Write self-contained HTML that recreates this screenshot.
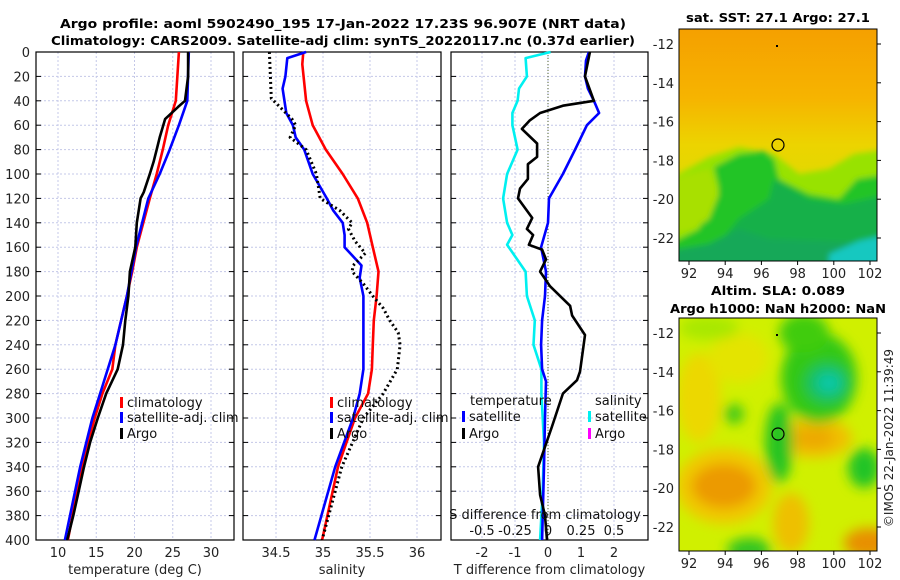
<!DOCTYPE html>
<html><head><meta charset="utf-8"><style>
html,body{margin:0;padding:0;background:#fff;}
svg{display:block;font-family:"DejaVu Sans","Liberation Sans",sans-serif;}
</style></head><body>
<svg id="fig" width="900" height="580" viewBox="0 0 900 580" xmlns="http://www.w3.org/2000/svg">
<defs>
<filter id="blur" x="-20%" y="-20%" width="140%" height="140%"><feGaussianBlur stdDeviation="6"/></filter>
<filter id="blur2" x="-20%" y="-20%" width="140%" height="140%"><feGaussianBlur stdDeviation="3"/></filter>
<clipPath id="c1"><rect x="679" y="29" width="198" height="232"/></clipPath>
<clipPath id="c2"><rect x="679" y="318" width="198" height="233"/></clipPath>
<linearGradient id="sstg" x1="0" y1="0" x2="0" y2="1">
<stop offset="0" stop-color="#f5a000"/><stop offset="0.3" stop-color="#f6b400"/><stop offset="0.5" stop-color="#ecd400"/><stop offset="1" stop-color="#c8e400"/></linearGradient>
</defs>
<g font-weight="bold" font-size="12.5" text-anchor="middle">
<text x="343" y="28" textLength="566" lengthAdjust="spacingAndGlyphs">Argo profile: aoml 5902490_195 17-Jan-2022 17.23S 96.907E (NRT data)</text>
<text x="343" y="45" textLength="584" lengthAdjust="spacingAndGlyphs">Climatology: CARS2009. Satellite-adj clim: synTS_20220117.nc (0.37d earlier)</text>
</g>
<g id="panels"></g>
<g>
<text x="778" y="22" font-size="12.5" font-weight="bold" text-anchor="middle" textLength="184" lengthAdjust="spacingAndGlyphs">sat. SST: 27.1 Argo: 27.1</text>
<g clip-path="url(#c1)">
<rect x="679" y="29" width="198" height="232" fill="url(#sstg)"/>
<g transform="translate(679,29)" filter="url(#blur2)">
<polygon points="-10,150 30,128 60,118 95,125 120,145 150,140 175,125 210,120 210,250 -10,250" fill="#98e200"/>
<polygon points="35,138 60,125 85,122 95,130 100,150 130,165 160,170 178,150 210,145 210,250 -10,250 -10,215 20,200 30,175 40,160" fill="#20c428"/>
<polygon points="95,150 130,170 165,175 210,165 210,250 -10,250 -10,225 40,215 60,190 90,170" fill="#16b048"/>
<polygon points="-10,150 30,140 40,165 30,190 15,200 -10,205" fill="#a8e000"/>
<polygon points="-10,222 30,215 60,200 90,210 210,215 210,250 -10,250" fill="#14a858"/>
<polygon points="150,225 180,212 210,205 210,250 150,250" fill="#18c8c0"/>
</g>
</g>
<rect x="679" y="29" width="198" height="232" fill="none" stroke="#000" stroke-width="1"/>
<circle cx="778" cy="145" r="6" fill="none" stroke="#000" stroke-width="1.2"/>
<rect x="776" y="45" width="2" height="2" fill="#000"/>
</g>
<g>
<text x="778" y="295" font-size="12.5" font-weight="bold" text-anchor="middle" textLength="134" lengthAdjust="spacingAndGlyphs">Altim. SLA: 0.089</text>
<text x="778" y="313" font-size="12.5" font-weight="bold" text-anchor="middle" textLength="216" lengthAdjust="spacingAndGlyphs">Argo h1000: NaN h2000: NaN</text>
<g clip-path="url(#c2)">
<rect x="679" y="318" width="198" height="233" fill="#d0f000"/>
<g transform="translate(679,318)" filter="url(#blur)">
<ellipse cx="45" cy="168" rx="48" ry="38" fill="#f0c800"/>
<ellipse cx="45" cy="168" rx="32" ry="22" fill="#ec9a00"/>
<ellipse cx="20" cy="80" rx="22" ry="45" fill="#ecd800"/>
<ellipse cx="60" cy="40" rx="30" ry="25" fill="#e4e400"/>
<ellipse cx="135" cy="120" rx="38" ry="20" fill="#f0c000"/>
<ellipse cx="135" cy="120" rx="20" ry="10" fill="#eca800"/>
<ellipse cx="112" cy="205" rx="18" ry="30" fill="#eec000"/>
<ellipse cx="190" cy="225" rx="25" ry="15" fill="#e89000"/>
<ellipse cx="140" cy="60" rx="38" ry="45" fill="#30c818"/>
<ellipse cx="125" cy="15" rx="25" ry="20" fill="#40cc10"/>
<ellipse cx="148" cy="65" rx="22" ry="20" fill="#18c060"/>
<ellipse cx="150" cy="65" rx="12" ry="10" fill="#10c8a8"/>
<ellipse cx="100" cy="125" rx="14" ry="40" fill="#28c420"/>
<ellipse cx="55" cy="96" rx="10" ry="10" fill="#40c818"/>
<ellipse cx="185" cy="150" rx="16" ry="20" fill="#20c428"/>
<ellipse cx="70" cy="232" rx="22" ry="12" fill="#30c420"/>
<ellipse cx="30" cy="10" rx="30" ry="12" fill="#a8e800"/>
</g>
</g>
<rect x="679" y="318" width="198" height="233" fill="none" stroke="#000" stroke-width="1"/>
<circle cx="778" cy="434" r="6" fill="none" stroke="#000" stroke-width="1.2"/>
<rect x="776" y="334" width="2" height="2" fill="#000"/>
</g>
<g id="mapaxes"></g>
<text transform="translate(893,438) rotate(-90)" font-size="12" text-anchor="middle" fill="#222">©IMOS 22-Jan-2022 11:39:49</text>
</svg>
<script>
// ---- data ----
const depthTicks = [0,20,40,60,80,100,120,140,160,180,200,220,240,260,280,300,320,340,360,380,400];
const tempTicks = [10,15,20,25,30];
const salTicks = [34.5,35,35.5,36];
const dTTicks = [-2,-1,0,1,2];
const dSTicks = [-0.5,-0.25,0,0.25,0.5];
const dSTickLabels = ["-0.5","-0.25","0","0.25","0.5"];

const tClimDepth = [0,40,60,80,100,120,160,180,200,240,260,280,300,340,400];
const tClimVal   = [25.8,25.4,24.4,23.7,22.9,22.0,20.3,19.7,19.0,17.5,17.1,15.8,14.8,13.1,11.3];
const tSatDepth  = [0,40,60,80,100,120,160,200,240,280,300,340,400];
const tSatVal    = [27.1,26.9,25.8,24.6,23.3,21.8,20.2,19.0,17.5,15.5,14.5,12.9,10.9];
const tArgoDepth = [0,20,40,45,55,70,80,90,100,115,120,140,160,180,200,220,240,260,280,300,320,340,360,380,400];
const tArgoVal   = [27.0,27.0,26.6,25.7,24.0,23.3,22.9,22.5,22.0,21.2,20.8,20.3,20.1,19.4,19.2,18.8,18.5,17.8,16.3,15.2,14.2,13.4,12.7,12.0,11.2];

const sClimDepth = [0,10,40,60,80,100,120,140,160,180,200,220,240,260,280,300,340,400];
const sClimVal   = [34.79,34.78,34.82,34.89,35.03,35.21,35.37,35.47,35.53,35.59,35.57,35.54,35.53,35.52,35.48,35.34,35.16,34.99];
const sSatDepth  = [0,5,20,30,50,60,70,80,100,120,130,140,150,160,175,185,200,240,260,280,300,340,400];
const sSatVal    = [34.82,34.62,34.60,34.57,34.61,34.68,34.71,34.80,34.89,35.04,35.11,35.21,35.23,35.23,35.41,35.39,35.43,35.43,35.43,35.39,35.32,35.13,34.91];
const sArgoDepth = [0,38,45,55,60,70,80,100,120,130,140,145,155,165,175,180,190,200,210,220,230,240,260,280,300,340,400];
const sArgoVal   = [34.43,34.45,34.54,34.67,34.71,34.65,34.82,34.93,34.97,35.18,35.31,35.27,35.34,35.45,35.32,35.31,35.43,35.53,35.64,35.71,35.80,35.82,35.79,35.64,35.43,35.20,34.99];

const dTSatDepth = [0,7,20,30,40,50,60,80,100,120,140,160,180,200,220,240,260,270,300,340,400];
const dTSatVal   = [1.24,1.15,1.12,1.21,1.39,1.55,1.18,0.82,0.45,0.03,0,-0.21,-0.06,-0.09,-0.18,-0.21,-0.18,-0.06,-0.09,-0.12,-0.18];
const dTArgoDepth = [0,20,40,44,50,56,63,75,86,92,104,112,120,136,145,150,158,162,170,180,192,208,216,232,244,262,269,280,307,340,363,380,400];
const dTArgoVal   = [1.27,1.12,1.39,0.45,-0.24,-0.55,-0.79,-0.33,-0.33,-0.61,-0.61,-0.85,-0.91,-0.48,-0.64,-0.45,-0.58,-0.18,-0.06,-0.24,0.06,0.67,0.73,1.12,1.06,0.97,0.88,0.45,0.12,-0.30,-0.24,-0.09,-0.03];
const dSSatDepth = [0,5,20,30,40,50,60,80,100,120,140,150,158,180,200,220,240,260,280,320,360,400];
const dSSatVal   = [0.02,-0.17,-0.16,-0.22,-0.23,-0.27,-0.27,-0.23,-0.31,-0.34,-0.31,-0.27,-0.31,-0.17,-0.16,-0.10,-0.11,-0.05,-0.05,-0.03,-0.04,-0.06];

const mapLonTicks = [92,94,96,98,100,102];
const mapLatTicks = [-12,-14,-16,-18,-20,-22];

// ---- axes ----
const NS = "http://www.w3.org/2000/svg";
const Y0 = 52, Y1 = 540;
const yD = d => Y0 + d * (Y1 - Y0) / 400;
const xT = t => 58 + (t - 10) * 7.65;
const xS = s => 323 + (s - 35) * 94;
const xdT = v => 548 + v * 33;
const xdS = v => 548 + v * 132;
const root = document.getElementById('panels');
function mk(tag, attrs, parent){ const e=document.createElementNS(NS,tag); for(const k in attrs) e.setAttribute(k,attrs[k]); (parent||root).appendChild(e); return e; }
function txt(x,y,s,attrs,parent){ const e=mk('text',Object.assign({x:x,y:y},attrs||{}),parent); e.textContent=s; return e; }

const panels = [
 {name:'temperature-panel', x0:36, x1:234, ticks:tempTicks, fx:xT, label:'temperature (deg C)'},
 {name:'salinity-panel', x0:243, x1:441, ticks:salTicks, fx:xS, label:'salinity'},
 {name:'difference-panel', x0:451, x1:648, ticks:dTTicks, fx:xdT, label:'T difference from climatology'}
];
panels.forEach((p,i)=>{
  const g = mk('g',{});
  
  
  depthTicks.forEach(d=>{
    const l = mk('line',{x1:p.x0,x2:p.x1,y1:yD(d),y2:yD(d),stroke:'#c4c8e8','stroke-width':1,'stroke-dasharray':'2,2'},g);
    
    
    mk('line',{x1:p.x0,x2:p.x0+5,y1:yD(d),y2:yD(d),stroke:'#000'},g);
    mk('line',{x1:p.x1-5,x2:p.x1,y1:yD(d),y2:yD(d),stroke:'#000'},g);
  });
  p.ticks.forEach(t=>{
    const x=p.fx(t);
    const l = mk('line',{x1:x,x2:x,y1:Y0,y2:Y1,stroke:'#c4c8e8','stroke-width':1,'stroke-dasharray':'2,2'},g);
    
    
    const lb = txt(x,557,String(t),{'font-size':13,'text-anchor':'middle',fill:'#222'},g);
    
    
  });
  mk('rect',{x:p.x0,y:Y0,width:p.x1-p.x0,height:Y1-Y0,fill:'none',stroke:'#000','stroke-width':1.2},g);
  const at = txt((p.x0+p.x1)/2,574,p.label,{'font-size':13,'text-anchor':'middle',fill:'#222'},g);
  
  
  if(i===0){
    depthTicks.forEach(d=>{
      const lb = txt(30,yD(d)+5,String(d),{'font-size':13,'text-anchor':'end',fill:'#222'},g);
      
      
    });
  }
});
mk('line',{x1:xdT(0),x2:xdT(0),y1:Y0,y2:Y1,stroke:'#556633','stroke-width':1,'stroke-dasharray':'1,2'});

function series(depths, vals, fx, color, name, dash){
  const pts = depths.map((d,i)=> fx(vals[i]).toFixed(1)+','+yD(d).toFixed(1)).join(' ');
  const pl = mk('polyline',{points:pts,fill:'none',stroke:color,'stroke-width':dash?3:2.6,'stroke-linejoin':'round'});
  if(dash) pl.setAttribute('stroke-dasharray',dash);
  
  
}
series(tClimDepth,tClimVal,xT,'#ff0000','temp-climatology-line');
series(tSatDepth,tSatVal,xT,'#0000ff','temp-satellite-line');
series(tArgoDepth,tArgoVal,xT,'#000000','temp-argo-line');
series(sClimDepth,sClimVal,xS,'#ff0000','sal-climatology-line');
series(sSatDepth,sSatVal,xS,'#0000ff','sal-satellite-line');
series(sArgoDepth,sArgoVal,xS,'#000000','sal-argo-line','2,3');
series(dSSatDepth,dSSatVal,xdS,'#00f0f0','sdiff-satellite-line');
series(dTSatDepth,dTSatVal,xdT,'#0000ff','tdiff-satellite-line');
series(dTArgoDepth,dTArgoVal,xdT,'#000000','tdiff-argo-line');

function legend(x,y,color,label,name){
  const g = mk('g',{});
  
  
  mk('rect',{x:x,y:y-10,width:3,height:11,fill:color},g);
  txt(x+7,y,label,{'font-size':13,fill:'#111'},g);
}
legend(120,407,'#ff0000','climatology','legend-climatology');
legend(120,422,'#0000ff','satellite-adj. clim','legend-satellite');
legend(120,438,'#000000','Argo','legend-argo');
legend(330,407,'#ff0000','climatology','legend-sal-climatology');
legend(330,422,'#0000ff','satellite-adj. clim','legend-sal-satellite');
legend(330,438,'#000000','Argo','legend-sal-argo');
txt(470,405,'temperature',{'font-size':13,fill:'#111'});
txt(595,405,'salinity',{'font-size':13,fill:'#111'});
legend(462,421,'#0000ff','satellite','legend-dt-satellite');
legend(462,438,'#000000','Argo','legend-dt-argo');
legend(588,421,'#00f0f0','satellite','legend-ds-satellite');
legend(588,438,'#ff00ff','Argo','legend-ds-argo');
const sdt = txt(545,519,'S difference from climatology',{'font-size':13,'text-anchor':'middle',fill:'#111'});


dSTicks.forEach((v,i)=>{
  const lb = txt(xdS(v),535,dSTickLabels[i],{'font-size':13,'text-anchor':'middle',fill:'#111'});
  
  
});

const ma = document.getElementById('mapaxes');
const mX = lon => 689 + (lon - 92) * 18.1;
[[29,261,44],[318,551,333]].forEach(([top,bot,y12])=>{
  const mY = lat => y12 + (-12 - lat) * 19.4;
  mapLonTicks.forEach(l=>{
    mk('line',{x1:mX(l),x2:mX(l),y1:bot,y2:bot+4,stroke:'#000'},ma);
    const lb = txt(mX(l),bot+17,String(l),{'font-size':13,'text-anchor':'middle',fill:'#222'},ma);
    
    
  });
  mapLatTicks.forEach(l=>{
    mk('line',{x1:877,x2:881,y1:mY(l),y2:mY(l),stroke:'#000'},ma);
    const lb = txt(674,mY(l)+5,String(l),{'font-size':13,'text-anchor':'end',fill:'#222'},ma);
    
    
  });
});
</script>
</body></html>
